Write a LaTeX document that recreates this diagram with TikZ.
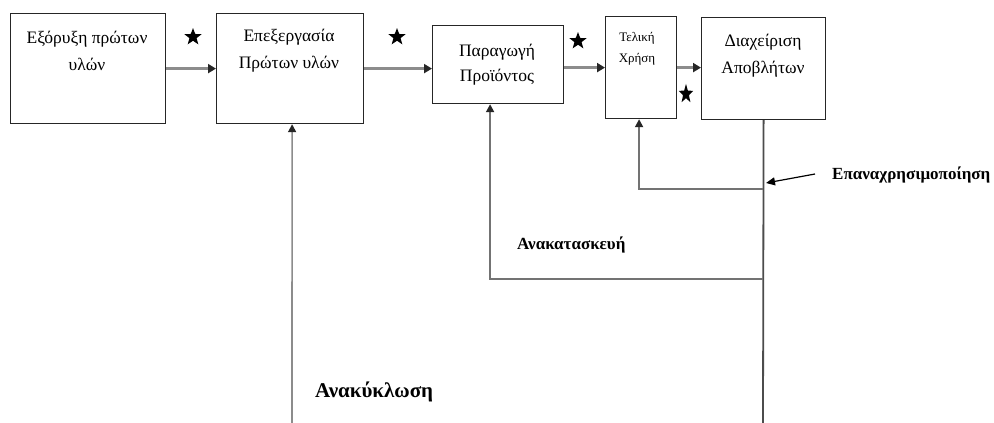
\documentclass[tikz,border=0pt]{standalone}
\usepackage{fontspec}
\setmainfont{Liberation Serif}
\usetikzlibrary{arrows.meta,shapes.geometric}
\begin{document}
\begin{tikzpicture}[x=1pt,y=-1pt,
  box/.style={draw=black!85,line width=1.2pt,rectangle,anchor=north west,inner sep=0pt},
  boxtext/.style={align=center,font=\fontsize{17.5}{27}\selectfont,inner sep=0pt},
  smalltext/.style={align=center,font=\fontsize{13}{21}\selectfont,inner sep=0pt},
  flow/.style={draw=black!45,line width=3.5pt,-{Triangle[length=8pt,width=9pt,color=black!85]}},
  back/.style={draw=black!55,line width=1.8pt,-{Triangle[length=8pt,width=8pt,color=black!85]}},
  trunk/.style={draw=black!70,line width=1.8pt},
  starmark/.style={star,star points=5,star point ratio=2.4,fill=black,draw=none,inner sep=0pt,minimum size=18pt},
  lab/.style={font=\bfseries\fontsize{17}{20}\selectfont,inner sep=0pt}]
\useasboundingbox (0,0) rectangle (994,423);
\fill[white] (0,0) rectangle (994,423);
% boxes
\node[box,minimum width=155pt,minimum height=110pt] (b1) at (10,13) {};
\node[box,minimum width=147pt,minimum height=110pt] (b2) at (216,13) {};
\node[box,minimum width=131pt,minimum height=78pt] (b3) at (432,25) {};
\node[box,minimum width=71pt,minimum height=102pt] (b4) at (605,16) {};
\node[box,minimum width=124pt,minimum height=102pt] (b5) at (701,17) {};
% texts
\node[boxtext] (t1) at (87,51) {Εξόρυξη πρώτων\\υλών};
\node[boxtext] (t2) at (289,51) {Επεξεργασία\\Πρώτων υλών};
\node[boxtext,font=\fontsize{17.5}{25}\selectfont] (t3) at (497,65) {Παραγωγή\\Προϊόντος};
\node[smalltext] (t4) at (637,49) {Τελική\\Χρήση};
\node[boxtext] (t5) at (763,56) {Διαχείριση\\Αποβλήτων};
% stars
\node[starmark] (s1) at (193,37) {};
\node[starmark] (s2) at (397,37) {};
\node[starmark] (s3) at (578,41) {};
\node[starmark,minimum size=15pt,yscale=1.35] (s4) at (686,94) {};
% main flow
\draw[flow] (b1.east) -- (b2.west);
\draw[flow] (b2.east) -- (b2.east -| b3.west);
\draw[flow] (b3.east |- b4.west) -- (b4.west);
\draw[flow] (b4.east) -- (b4.east -| b5.west);
% feedback
\coordinate (bot) at (763,423);
\coordinate (bot2) at (292,423);
\coordinate (j1) at (763,189);
\coordinate (j2) at (763,279);
\draw[trunk] (b5.south) -- (bot);
\draw[back] (j1) -| ([xshift=-2pt]b4.south);
\draw[back] (j2) -| ([xshift=-8pt]b3.south);
\draw[draw=black!45,line width=1.6pt,-{Triangle[length=8pt,width=8pt,color=black!85]}] (bot2) -- ([xshift=2pt]b2.south);
% labels
\node[lab,anchor=west] (l1) at (832,175) {Επαναχρησιμοποίηση};
\node[lab,anchor=west,font=\bfseries\fontsize{17}{20}\selectfont] (l2) at (517,245) {Ανακατασκευή};
\node[lab,anchor=west,font=\bfseries\fontsize{21}{24}\selectfont] (l3) at (315,392) {Ανακύκλωση};
\coordinate (rp) at (766,183);
\draw[line width=1.2pt,-{Triangle[length=9pt,width=8pt]}] (815,174) -- (rp);
\end{tikzpicture}
\end{document}
